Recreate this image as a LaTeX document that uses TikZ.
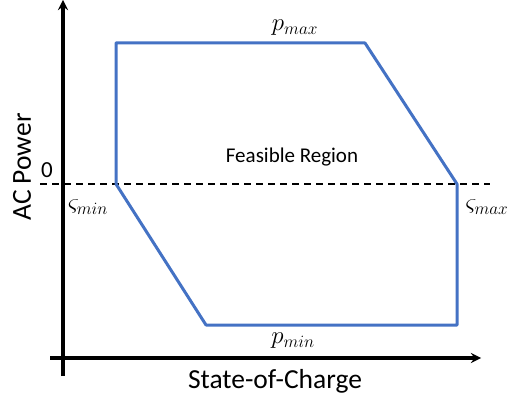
\documentclass[tikz,border=0pt]{standalone}
\usepackage{fontspec}
\setmainfont{Carlito}
\definecolor{regionblue}{RGB}{68,114,196}
\begin{document}
\begin{tikzpicture}[x=1pt,y=-1pt,line join=round,>=stealth]
		\useasboundingbox (0,0) rectangle (508,403);
		% axes
		\draw[->,line width=3.4pt] (50,358) -- (481,358);
		\draw[->,line width=3.4pt] (63,376) -- (63,0);
		\draw[dashed,line width=1.8pt,dash pattern=on 7pt off 5pt] (40,184) -- (490,184);
		% feasible region
		\coordinate (A) at (116,43);
		\coordinate (B) at (365,43);
		\coordinate (C) at (457,184);
		\coordinate (D) at (457,325);
		\coordinate (E) at (206,325);
		\coordinate (F) at (116,184);
		\draw[regionblue,line width=3pt] (A) -- (B) -- (C) -- (D) -- (E) -- (F) -- cycle;
		% labels
		\node[font=\fontsize{23}{27}\selectfont] (zero) at (47,170) {0};
		\node[font=\fontsize{21}{25}\selectfont] (feas) at (292,157) {Feasible Region};
		\node[font=\fontsize{27.5}{32}\selectfont] (soc) at (275,381) {State-of-Charge};
		\node[font=\fontsize{27.5}{32}\selectfont,rotate=90] (acp) at (22,167) {AC Power};
		\node[font=\fontsize{25}{30}\selectfont] (pmax) at (295,28) {$p_{max}$};
		\node[font=\fontsize{25}{30}\selectfont] (pmin) at (293,341) {$p_{min}$};
		\node[font=\fontsize{25}{30}\selectfont] (smin) at (88,207) {$\varsigma_{min}$};
		\node[font=\fontsize{25}{30}\selectfont] (smax) at (487,207) {$\varsigma_{max}$};
		\end{tikzpicture}
\end{document}
